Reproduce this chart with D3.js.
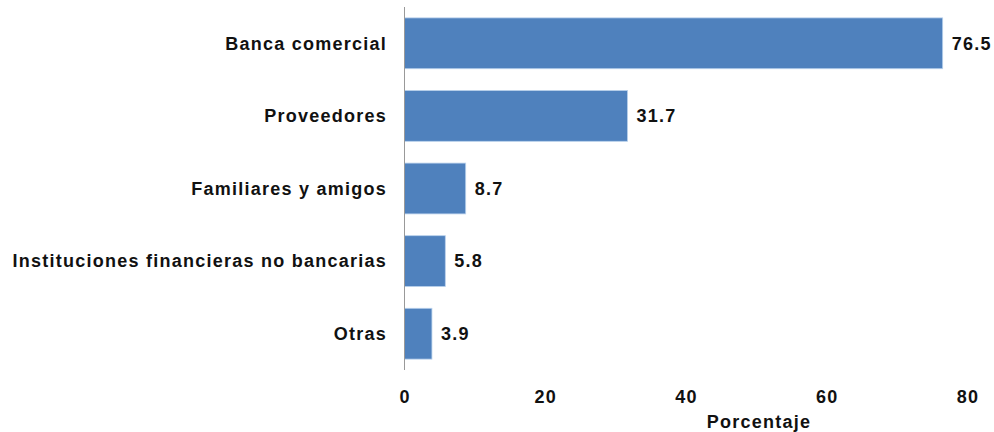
<!DOCTYPE html>
<html><head><meta charset="utf-8">
<script src="https://cdn.jsdelivr.net/npm/d3@7"></script>
<style>body{margin:0;background:#fff}text{font-family:"Liberation Sans",Arial,sans-serif;font-weight:bold;fill:#111;letter-spacing:1.25px}</style>
</head><body><svg id="c" width="994" height="432"></svg>
<script>
const categories = ["Banca comercial","Proveedores","Familiares y amigos","Instituciones financieras no bancarias","Otras"];
const values = [76.5, 31.7, 8.7, 5.8, 3.9];
const xTicks = [0, 20, 40, 60, 80];
const xTitle = "Porcentaje";

const svg = d3.select("#c");
const m = {left: 404.5, right: 967.3, top: 7, bottom: 370};
const x = d3.scaleLinear().domain([0, 80]).range([m.left, m.right]);
const y = d3.scaleBand().domain(categories).range([m.top, m.bottom]).paddingInner(0.3).paddingOuter(0.15);

svg.selectAll("rect.bar").data(values).enter().append("rect")
  .attr("x", x(0)).attr("y", (d,i) => y(categories[i]))
  .attr("width", d => x(d) - x(0)).attr("height", y.bandwidth())
  .attr("fill", "#4f81bd").attr("stroke", "#b9d1ec").attr("stroke-width", 0.8);

svg.append("line").attr("x1", x(0)).attr("x2", x(0)).attr("y1", m.top).attr("y2", m.bottom)
  .attr("stroke", "#999").attr("stroke-width", 1);

svg.selectAll("text.cat").data(categories).enter().append("text")
  .attr("x", 387).attr("y", d => y(d) + y.bandwidth()/2).attr("dy", "0.35em")
  .attr("text-anchor", "end").attr("font-size", 18).text(d => d);

svg.selectAll("text.val").data(values).enter().append("text")
  .attr("x", d => x(d) + 9).attr("y", (d,i) => y(categories[i]) + y.bandwidth()/2).attr("dy", "0.35em")
  .attr("font-size", 18).text(d => d.toFixed(1));

svg.selectAll("text.tick").data(xTicks).enter().append("text")
  .attr("x", d => x(d) + 0.6).attr("y", 397).attr("dy", "0.35em").attr("text-anchor", "middle")
  .attr("font-size", 18).text(d => d);

svg.append("text").attr("x", 759).attr("y", 422).attr("dy", "0.35em").attr("text-anchor", "middle")
  .attr("font-size", 18).text(xTitle);
</script></body></html>
